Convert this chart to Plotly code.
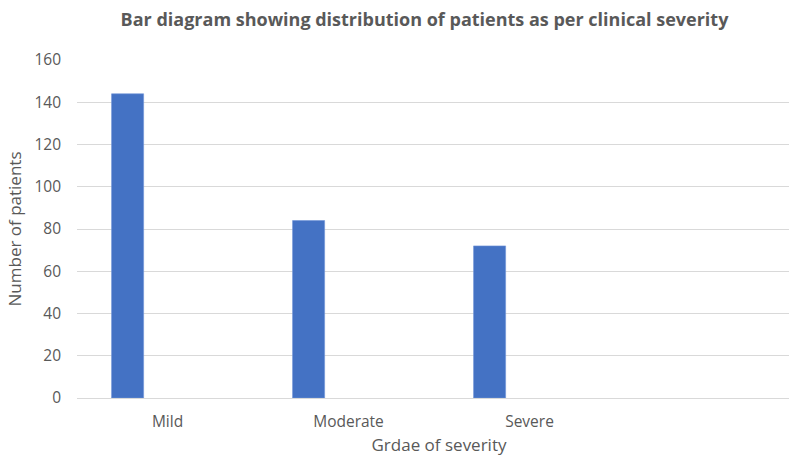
import plotly.graph_objects as go

categories = ["Mild", "Moderate", "Severe"]
patients = [144, 84, 72]
y_ticks = [0, 20, 40, 60, 80, 100, 120, 140, 160]

fig = go.Figure()
fig.add_trace(go.Bar(
    x=categories, y=patients,
    marker=dict(color="#4472C4", line=dict(color="#6f93d8", width=0.6)),
    offset=-0.309, width=0.177,
    hoverinfo="x+y",
))

W = 801
font_fam = "Open Sans, Liberation Sans, Arial, sans-serif"
fig.update_layout(
    width=W, height=457,
    margin=dict(l=77, r=0, t=60, b=59),
    paper_bgcolor="white", plot_bgcolor="white",
    showlegend=False,
    title=dict(text="<b>Bar diagram showing distribution of patients as per clinical severity</b>",
               x=424.5 / W, xanchor="center", y=1 - 20 / 457, yanchor="middle",
               font=dict(family=font_fam, size=18, color="#595959")),
    font=dict(family=font_fam, color="#595959"),
)
fig.update_xaxes(
    type="category", range=[-0.5, 3.50],
    showgrid=False, showline=True, linecolor="#d9d9d9", linewidth=1,
    ticks="", tickfont=dict(size=15.5, color="#595959"), ticklabelstandoff=9,
    title=dict(text="Grdae of severity", font=dict(size=17, color="#595959"), standoff=8),
)
fig.update_yaxes(
    range=[0, 160], tickvals=y_ticks,
    showgrid=True, gridcolor="#d9d9d9", gridwidth=1, zeroline=False,
    showline=False, ticks="", tickfont=dict(size=15.5, color="#595959"), ticklabelstandoff=15,
    title=dict(text="Number of patients", font=dict(size=17, color="#595959"), standoff=8),
)
fig.write_html(
    "out.html",
    config={"displayModeBar": False},
    post_script="document.body.style.margin='0';document.body.style.overflow='hidden';",
)
